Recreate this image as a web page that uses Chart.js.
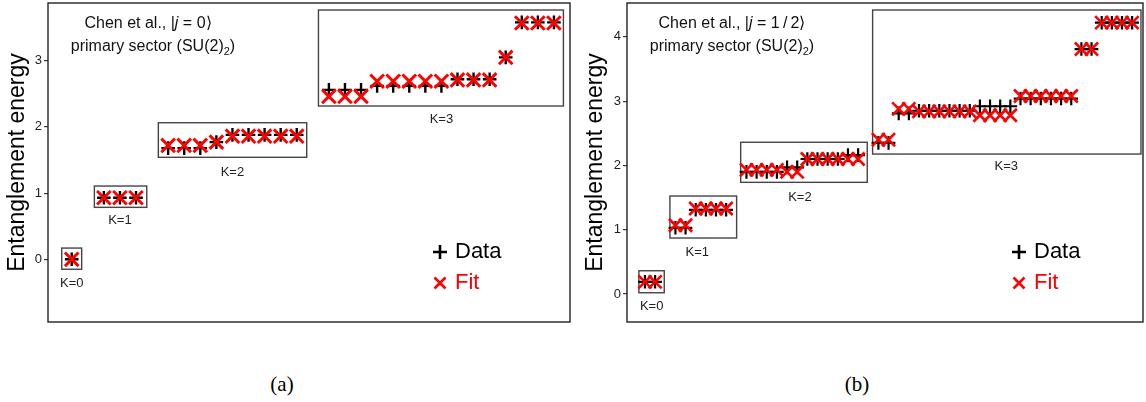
<!DOCTYPE html>
<html><head><meta charset="utf-8">
<script src="https://cdn.jsdelivr.net/npm/chart.js@4/dist/chart.umd.min.js"></script>
<style>
html,body{margin:0;padding:0;background:#fff;width:1146px;height:402px;overflow:hidden;position:relative}
.panel{position:absolute;top:0}
.cap{position:absolute;top:372px;font-family:"Liberation Serif","DejaVu Serif",serif;font-size:21px;color:#000;transform:translateX(-50%);white-space:nowrap}
</style></head><body>
<div class="panel" style="left:0;width:575px;height:326px"><canvas id="ca" width="575" height="326"></canvas></div>
<div class="panel" style="left:578px;width:568px;height:326px"><canvas id="cb" width="568" height="326"></canvas></div>
<div class="cap" style="left:282px">(a)</div>
<div class="cap" style="left:857px">(b)</div>
<script>
// ---------- data: panel (a), |j = 0> sector ----------
const j0SectorSizes = [1, 3, 9, 15];
const j0SectorNames = ['K=0', 'K=1', 'K=2', 'K=3'];
const j0Data = [0,
  0.93, 0.93, 0.93,
  1.68, 1.68, 1.68, 1.77, 1.88, 1.88, 1.88, 1.88, 1.88,
  2.56, 2.56, 2.56, 2.62, 2.62, 2.62, 2.62, 2.62, 2.72, 2.72, 2.72, 3.05, 3.58, 3.58, 3.58];
const j0Fit = [0,
  0.93, 0.93, 0.93,
  1.72, 1.72, 1.72, 1.77, 1.86, 1.86, 1.86, 1.86, 1.86,
  2.46, 2.46, 2.46, 2.69, 2.69, 2.69, 2.69, 2.69, 2.71, 2.71, 2.71, 3.05, 3.57, 3.57, 3.57];
const j0YTicks = [0, 1, 2, 3];

// ---------- data: panel (b), |j = 1/2> sector ----------
const jhSectorSizes = [2, 6, 12, 26];
const jhSectorNames = ['K=0', 'K=1', 'K=2', 'K=3'];
const jhData = [0.19, 0.19,
  1.03, 1.03, 1.31, 1.31, 1.31, 1.31,
  1.90, 1.90, 1.90, 1.90, 1.97, 1.97, 2.10, 2.10, 2.10, 2.10, 2.16, 2.16,
  2.35, 2.35, 2.81, 2.81, 2.85, 2.85, 2.85, 2.85, 2.85, 2.85, 2.92, 2.92, 2.92, 2.92,
  3.04, 3.04, 3.04, 3.04, 3.04, 3.04, 3.81, 3.81, 4.22, 4.22, 4.22, 4.22];
const jhFit = [0.19, 0.19,
  1.07, 1.07, 1.33, 1.33, 1.33, 1.33,
  1.93, 1.93, 1.93, 1.93, 1.90, 1.90, 2.10, 2.10, 2.10, 2.10, 2.10, 2.10,
  2.40, 2.40, 2.88, 2.88, 2.84, 2.84, 2.84, 2.84, 2.84, 2.84, 2.78, 2.78, 2.78, 2.78,
  3.08, 3.08, 3.08, 3.08, 3.08, 3.08, 3.81, 3.81, 4.22, 4.22, 4.22, 4.22];
const jhYTicks = [0, 1, 2, 3, 4];

const legendLabels = ['Data', 'Fit'];
const yTitle = 'Entanglement energy';

// ---------- layout / annotation config ----------
const FONT = '"Liberation Sans", Arial, sans-serif';
const j0Boxes = [
  {x0: -0.62, x1: 0.62, y0: -0.15, y1: 0.17, lx: 0, ly: -0.36},
  {x0: 1.41, x1: 4.67, y0: 0.785, y1: 1.107, lx: 3, ly: 0.594},
  {x0: 5.39, x1: 14.62, y0: 1.541, y1: 2.063, lx: 10, ly: 1.32},
  {x0: 15.35, x1: 30.59, y0: 2.316, y1: 3.766, lx: 23, ly: 2.12}
];
const jhBoxes = [
  {x0: -0.6, x1: 1.9, y0: 0.02, y1: 0.362, lx: 0.66, ly: -0.19},
  {x0: 2.46, x1: 9.03, y0: 0.871, y1: 1.524, lx: 5.15, ly: 0.65},
  {x0: 9.43, x1: 21.9, y0: 1.737, y1: 2.36, lx: 15.27, ly: 1.51},
  {x0: 22.43, x1: 48.87, y0: 2.177, y1: 4.417, lx: 35.6, ly: 1.98}
];
const j0Title = [
  {dx: 100, dy: 21, parts: [{t: 'Chen et al., |'}, {t: 'j', it: true}, {t: ' = 0\u27E9'}]},
  {dx: 105, dy: 44, parts: [{t: 'primary sector (SU(2)'}, {t: '2', sub: true}, {t: ')'}]}
];
const jhTitle = [
  {dx: 105, dy: 21, parts: [{t: 'Chen et al., |'}, {t: 'j', it: true}, {t: ' = 1\u2009/\u20092\u27E9'}]},
  {dx: 105, dy: 44, parts: [{t: 'primary sector (SU(2)'}, {t: '2', sub: true}, {t: ')'}]}
];

function sectorX(sizes) {
  const xs = []; let x = 0;
  sizes.forEach(n => { for (let i = 0; i < n; i++) xs.push(x++); x += 1; });
  return xs;
}
function pts(sizes, vals) {
  const xs = sectorX(sizes);
  return vals.map((v, i) => ({x: xs[i], y: v}));
}

const decor = {
  id: 'decor',
  beforeDatasetsDraw(chart, args, o) {
    const {ctx, chartArea: a, scales: {x, y}} = chart;
    ctx.save();
    ctx.strokeStyle = '#222'; ctx.lineWidth = 1.4;
    ctx.strokeRect(a.left, a.top, a.right - a.left, a.bottom - a.top);
    ctx.strokeStyle = '#444'; ctx.lineWidth = 1.4;
    ctx.font = '13px ' + FONT; ctx.fillStyle = '#222';
    ctx.textAlign = 'center'; ctx.textBaseline = 'middle';
    o.boxes.forEach((b, i) => {
      const px0 = x.getPixelForValue(b.x0), px1 = x.getPixelForValue(b.x1);
      const py0 = y.getPixelForValue(b.y0), py1 = y.getPixelForValue(b.y1);
      ctx.strokeRect(px0, py1, px1 - px0, py0 - py1);
      ctx.fillText(o.names[i], x.getPixelForValue(b.lx), y.getPixelForValue(b.ly));
    });
    ctx.restore();
  },
  afterDatasetsDraw(chart, args, o) {
    const {ctx, chartArea: a} = chart;
    ctx.save();
    ctx.textBaseline = 'middle'; ctx.textAlign = 'left'; ctx.fillStyle = '#111';
    o.title.forEach(line => {
      const fonts = line.parts.map(p => p.it ? 'italic 16px ' + FONT : (p.sub ? '11px ' + FONT : '16px ' + FONT));
      let w = 0;
      line.parts.forEach((p, i) => { ctx.font = fonts[i]; w += ctx.measureText(p.t).width; });
      let cx = a.left + line.dx - w / 2; const cy = a.top + line.dy;
      line.parts.forEach((p, i) => {
        ctx.font = fonts[i];
        ctx.fillText(p.t, cx, cy + (p.sub ? 5 : 0));
        cx += ctx.measureText(p.t).width;
      });
    });
    // legend markers
    const lx = a.left + o.legX, y1 = a.top + 249, y2 = a.top + 280;
    ctx.lineWidth = 2.6; ctx.strokeStyle = '#000';
    ctx.beginPath();
    ctx.moveTo(lx - 7, y1); ctx.lineTo(lx + 7, y1);
    ctx.moveTo(lx, y1 - 7); ctx.lineTo(lx, y1 + 7);
    ctx.stroke();
    ctx.strokeStyle = '#f00';
    ctx.beginPath();
    ctx.moveTo(lx - 5.5, y2 - 5.5); ctx.lineTo(lx + 5.5, y2 + 5.5);
    ctx.moveTo(lx + 5.5, y2 - 5.5); ctx.lineTo(lx - 5.5, y2 + 5.5);
    ctx.stroke();
    ctx.font = '22px ' + FONT;
    ctx.fillStyle = '#000';
    ctx.fillText(legendLabels[0], lx + 15, y1);
    ctx.fillStyle = '#f00';
    ctx.fillText(legendLabels[1], lx + 15, y2);
    ctx.restore();
  }
};

function makeChart(id, sizes, dataVals, fitVals, yTicks, xr, yr, yAxisW, padR, decorOpts, mk) {
  return new Chart(document.getElementById(id), {
    type: 'scatter',
    data: {
      datasets: [
        {label: legendLabels[0], data: pts(sizes, dataVals), order: 2,
         pointStyle: 'cross', pointRadius: mk.dr, pointBorderWidth: mk.dw,
         borderColor: '#000', backgroundColor: '#000', pointHoverRadius: mk.dr},
        {label: legendLabels[1], data: pts(sizes, fitVals), order: 1,
         pointStyle: 'crossRot', pointRadius: mk.fr, pointBorderWidth: mk.fw,
         borderColor: '#ff0000', backgroundColor: '#ff0000', pointHoverRadius: mk.fr}
      ]
    },
    options: {
      responsive: false, animation: false, devicePixelRatio: 1,
      layout: {autoPadding: false, padding: {top: 3, right: padR, bottom: 4, left: 0}},
      plugins: {legend: {display: false}, tooltip: {enabled: false}, decor: decorOpts},
      events: [],
      scales: {
        x: {type: 'linear', min: xr[0], max: xr[1], display: false},
        y: {
          type: 'linear', min: yr[0], max: yr[1],
          afterBuildTicks: s => { s.ticks = yTicks.map(v => ({value: v})); },
          afterFit: s => { s.width = yAxisW; s.paddingTop = 0; s.paddingBottom = 0; },
          ticks: {font: {size: 13, family: FONT}, color: '#222', padding: 2, callback: v => String(v)},
          grid: {drawOnChartArea: false, drawTicks: true, tickLength: 4, color: '#333', lineWidth: 1.2},
          border: {display: false},
          title: {display: true, text: yTitle, font: {size: 23, family: FONT}, color: '#000', padding: {top: 4, bottom: 0}}
        }
      }
    },
    plugins: [decor]
  });
}

makeChart('ca', j0SectorSizes, j0Data, j0Fit, j0YTicks, [-1.475, 31.0], [-0.947, 3.872], 48, 5,
  {boxes: j0Boxes, names: j0SectorNames, title: j0Title, legX: 392},
  {dr: 6.8, dw: 2.4, fr: 9.6, fw: 3});
makeChart('cb', jhSectorSizes, jhData, jhFit, jhYTicks, [-1.77, 49.07], [-0.435, 4.526], 49, 3,
  {boxes: jhBoxes, names: jhSectorNames, title: jhTitle, legX: 392},
  {dr: 6.8, dw: 2.2, fr: 9.2, fw: 2.6});
</script>
</body></html>
